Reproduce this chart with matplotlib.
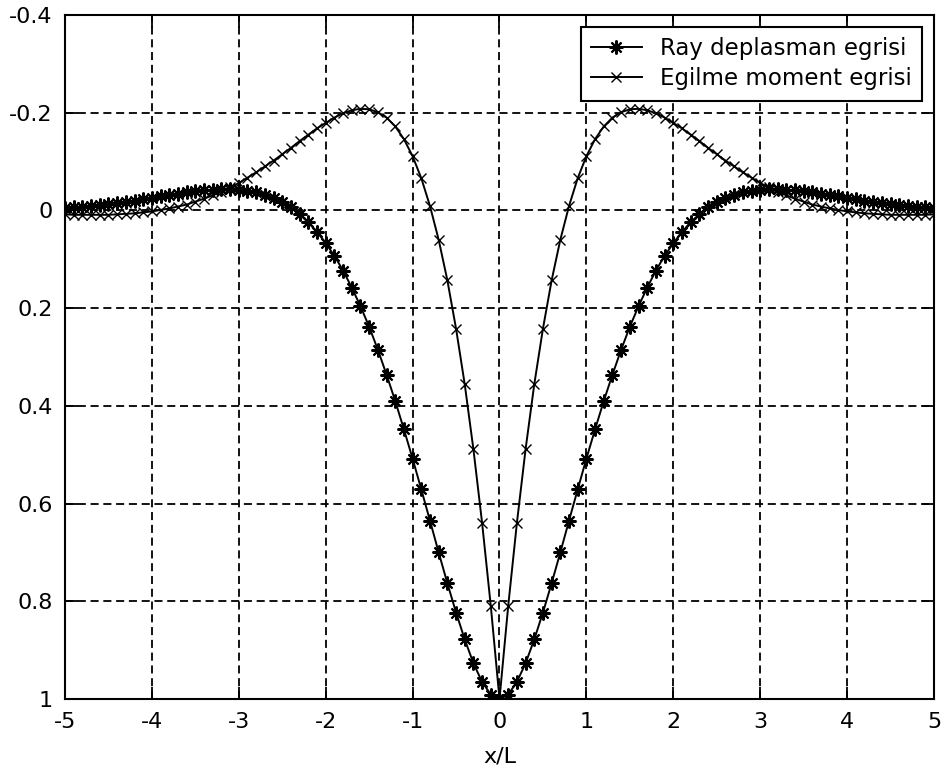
import numpy as np
import matplotlib
matplotlib.use("Agg")
import matplotlib.pyplot as plt

# x/L sampling grid (step 0.1)
x_over_L = np.linspace(-5, 5, 101)

# Ray deplasman egrisi
deflection = [
    -0.005, -0.006, -0.008, -0.009, -0.011, -0.013, -0.016, -0.018, -0.020, -0.023,
    -0.026, -0.029, -0.031, -0.034, -0.037, -0.039, -0.041, -0.042, -0.043, -0.043,
    -0.042, -0.040, -0.037, -0.032, -0.025, -0.017, -0.006, 0.008, 0.024, 0.044,
    0.067, 0.093, 0.123, 0.158, 0.196, 0.238, 0.285, 0.336, 0.390, 0.448,
    0.508, 0.571, 0.635, 0.700, 0.763, 0.823, 0.878, 0.927, 0.965, 0.991,
    1.000,
    0.991, 0.965, 0.927, 0.878, 0.823, 0.763, 0.700, 0.635, 0.571, 0.508,
    0.448, 0.390, 0.336, 0.285, 0.238, 0.196, 0.158, 0.123, 0.093, 0.067,
    0.044, 0.024, 0.008, -0.006, -0.017, -0.025, -0.032, -0.037, -0.040, -0.042,
    -0.043, -0.043, -0.042, -0.041, -0.039, -0.037, -0.034, -0.031, -0.029, -0.026,
    -0.023, -0.020, -0.018, -0.016, -0.013, -0.011, -0.009, -0.008, -0.006, -0.005,
]

# Egilme moment egrisi
moment = [
    0.008, 0.009, 0.009, 0.009, 0.009, 0.009, 0.008, 0.007, 0.006, 0.004,
    0.002, -0.001, -0.004, -0.008, -0.012, -0.018, -0.024, -0.031, -0.038, -0.047,
    -0.056, -0.067, -0.078, -0.090, -0.102, -0.115, -0.128, -0.142, -0.155, -0.168,
    -0.179, -0.190, -0.199, -0.205, -0.208, -0.207, -0.201, -0.190, -0.172, -0.146,
    -0.111, -0.066, -0.009, 0.060, 0.143, 0.242, 0.356, 0.489, 0.640, 0.810,
    1.000,
    0.810, 0.640, 0.489, 0.356, 0.242, 0.143, 0.060, -0.009, -0.066, -0.111,
    -0.146, -0.172, -0.190, -0.201, -0.207, -0.208, -0.205, -0.199, -0.190, -0.179,
    -0.168, -0.155, -0.142, -0.128, -0.115, -0.102, -0.090, -0.078, -0.067, -0.056,
    -0.047, -0.038, -0.031, -0.024, -0.018, -0.012, -0.008, -0.004, -0.001, 0.002,
    0.004, 0.006, 0.007, 0.008, 0.009, 0.009, 0.009, 0.009, 0.009, 0.008,
]

series_labels = ["Ray deplasman egrisi", "Egilme moment egrisi"]
x_ticks = [-5, -4, -3, -2, -1, 0, 1, 2, 3, 4, 5]
y_ticks = [-0.4, -0.2, 0, 0.2, 0.4, 0.6, 0.8, 1]
y_tick_labels = ["-0.4", "-0.2", "0", "0.2", "0.4", "0.6", "0.8", "1"]

plt.rcParams["font.family"] = "DejaVu Sans"
plt.rcParams["font.size"] = 16
plt.rcParams["lines.scale_dashes"] = False

fig = plt.figure(figsize=(9.45, 7.76), dpi=100)
ax = fig.add_axes([65 / 945, 1 - 699 / 776, (934 - 65) / 945, (699 - 15) / 776])

ax.plot(x_over_L, deflection, color="black", linewidth=1.4,
        marker=(8, 2, 0), markersize=10, markeredgewidth=1.5,
        label=series_labels[0])
ax.plot(x_over_L, moment, color="black", linewidth=1.4,
        marker="x", markersize=7, markeredgewidth=1.0,
        label=series_labels[1])

ax.set_xlim(-5, 5)
ax.set_ylim(1, -0.4)
ax.set_xticks(x_ticks)
ax.set_xticklabels([str(t) for t in x_ticks])
ax.set_yticks(y_ticks)
ax.set_yticklabels(y_tick_labels)
ax.set_xlabel("x/L", labelpad=11)

ax.grid(True, color="black", linestyle=(0, (5.8, 3.4)), linewidth=1.3)
ax.tick_params(direction="in", length=9, width=1.3, top=True, right=True, pad=9)
for spine in ax.spines.values():
    spine.set_linewidth(1.5)

leg = ax.legend(loc="upper right", bbox_to_anchor=((922 - 65) / 869, 1 - 12 / 684),
                borderaxespad=0, fancybox=False, framealpha=1, edgecolor="black",
                numpoints=1, handlelength=2.2, handletextpad=0.8, borderpad=0.45,
                labelspacing=0.3, fontsize=16.5)
leg.get_frame().set_linewidth(1.5)

plt.savefig("out.png", dpi=100)
